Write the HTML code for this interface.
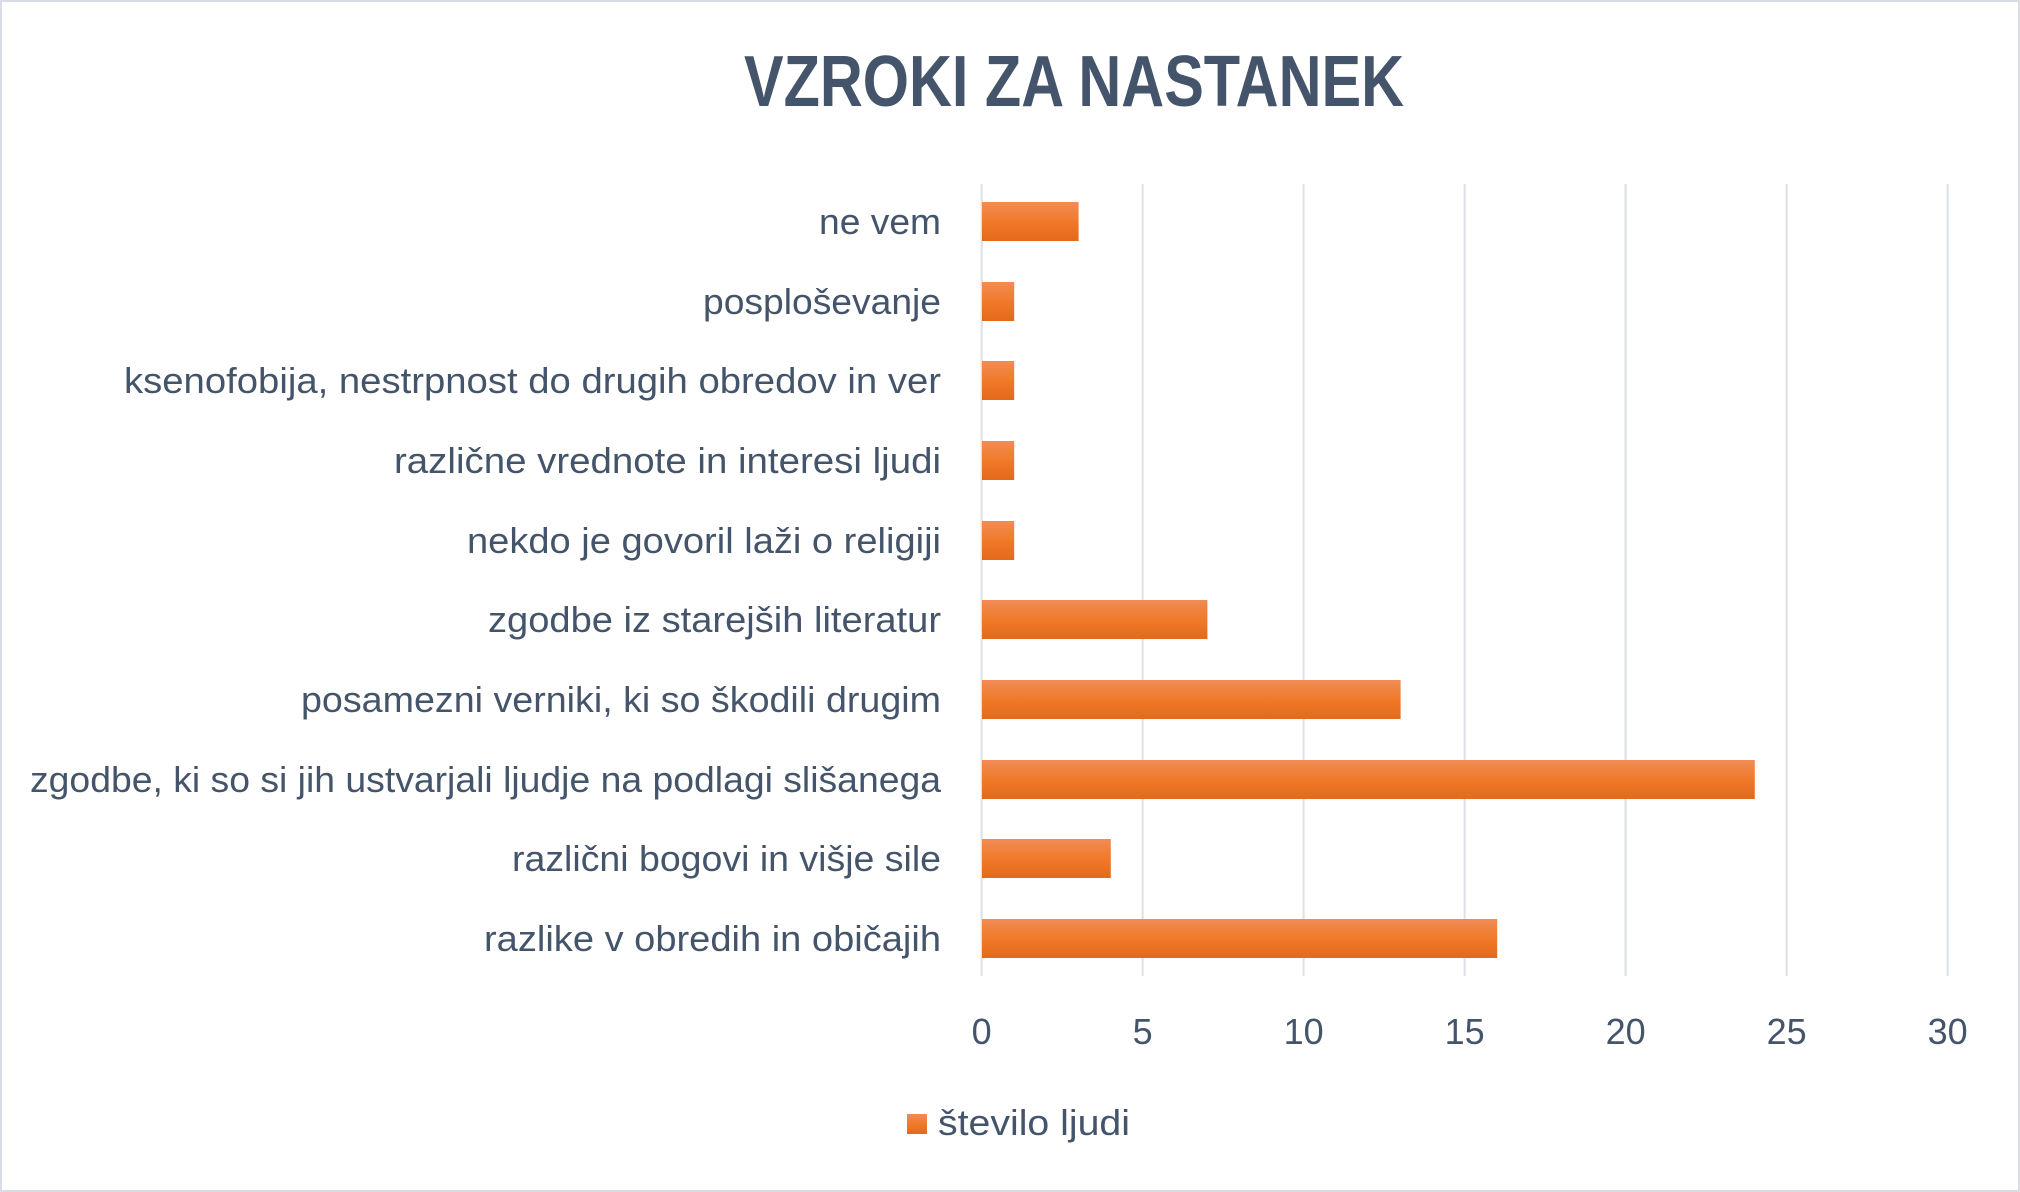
<!DOCTYPE html>
<html><head><meta charset="utf-8"><style>
html,body{margin:0;padding:0;background:#fff}
svg{display:block}
text{font-family:"Liberation Sans",sans-serif;fill:#44546a}
</style></head><body>
<svg width="2020" height="1192" viewBox="0 0 2020 1192" xmlns="http://www.w3.org/2000/svg">
<defs>
<linearGradient id="g" x1="0" y1="0" x2="0" y2="1">
<stop offset="0" stop-color="#f08c55"/><stop offset="0.5" stop-color="#f07a2a"/><stop offset="1" stop-color="#e4691a"/>
</linearGradient>
</defs>
<rect x="1" y="1" width="2018" height="1190" fill="#fff" stroke="#d9dde3" stroke-width="2"/>
<text x="1074" y="106" text-anchor="middle" font-size="72" font-weight="bold" textLength="660" lengthAdjust="spacingAndGlyphs">VZROKI ZA NASTANEK</text>
<g stroke="#dde1e7" stroke-width="2">
<line x1="981.6" y1="184" x2="981.6" y2="976"/>
<line x1="1142.6" y1="184" x2="1142.6" y2="976"/>
<line x1="1303.6" y1="184" x2="1303.6" y2="976"/>
<line x1="1464.6" y1="184" x2="1464.6" y2="976"/>
<line x1="1625.6" y1="184" x2="1625.6" y2="976"/>
<line x1="1786.6" y1="184" x2="1786.6" y2="976"/>
<line x1="1947.6" y1="184" x2="1947.6" y2="976"/>
</g>
<g fill="url(#g)">
<rect x="982" y="202" width="96.6" height="39"/>
<rect x="982" y="282" width="32.2" height="39"/>
<rect x="982" y="361" width="32.2" height="39"/>
<rect x="982" y="441" width="32.2" height="39"/>
<rect x="982" y="521" width="32.2" height="39"/>
<rect x="982" y="600" width="225.4" height="39"/>
<rect x="982" y="680" width="418.6" height="39"/>
<rect x="982" y="760" width="772.8" height="39"/>
<rect x="982" y="839" width="128.8" height="39"/>
<rect x="982" y="919" width="515.2" height="39"/>
</g>
<g font-size="36" text-anchor="end">
<text x="941" y="234" textLength="122" lengthAdjust="spacingAndGlyphs">ne vem</text>
<text x="941" y="314" textLength="238" lengthAdjust="spacingAndGlyphs">posploševanje</text>
<text x="941" y="393" textLength="817" lengthAdjust="spacingAndGlyphs">ksenofobija, nestrpnost do drugih obredov in ver</text>
<text x="941" y="473" textLength="547" lengthAdjust="spacingAndGlyphs">različne vrednote in interesi ljudi</text>
<text x="941" y="553" textLength="474" lengthAdjust="spacingAndGlyphs">nekdo je govoril laži o religiji</text>
<text x="941" y="632" textLength="453" lengthAdjust="spacingAndGlyphs">zgodbe iz starejših literatur</text>
<text x="941" y="712" textLength="640" lengthAdjust="spacingAndGlyphs">posamezni verniki, ki so škodili drugim</text>
<text x="941" y="792" textLength="911" lengthAdjust="spacingAndGlyphs">zgodbe, ki so si jih ustvarjali ljudje na podlagi slišanega</text>
<text x="941" y="871" textLength="429" lengthAdjust="spacingAndGlyphs">različni bogovi in višje sile</text>
<text x="941" y="951" textLength="457" lengthAdjust="spacingAndGlyphs">razlike v obredih in običajih</text>
</g>
<g font-size="36" text-anchor="middle">
<text x="981.6" y="1044">0</text>
<text x="1142.6" y="1044">5</text>
<text x="1303.6" y="1044">10</text>
<text x="1464.6" y="1044">15</text>
<text x="1625.6" y="1044">20</text>
<text x="1786.6" y="1044">25</text>
<text x="1947.6" y="1044">30</text>
</g>
<rect x="907" y="1114" width="20" height="20" fill="url(#g)"/>
<text x="938" y="1135" font-size="36" textLength="192" lengthAdjust="spacingAndGlyphs">število ljudi</text>
</svg>
</body></html>
